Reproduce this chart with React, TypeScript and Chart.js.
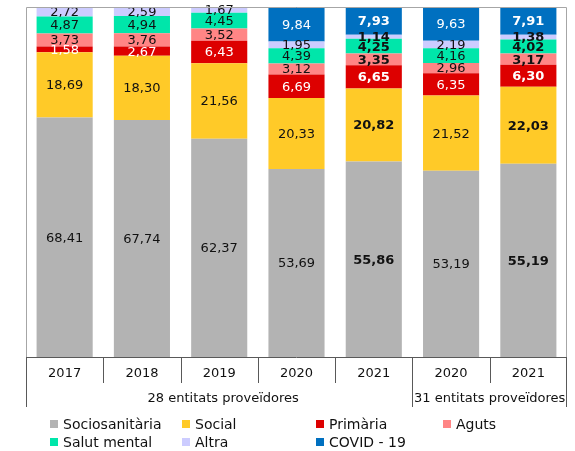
import React, { useEffect, useRef } from "react";
import { Chart, registerables } from "chart.js";

Chart.register(...registerables);

const categories = ["2017", "2018", "2019", "2020", "2021", "2020", "2021"];
const groupLabels = ["28 entitats proveïdores", "31 entitats proveïdores"];
const groupSpans = [5, 2];

const sociosanitaria = [68.41, 67.74, 62.37, 53.69, 55.86, 53.19, 55.19];
const social = [18.69, 18.3, 21.56, 20.33, 20.82, 21.52, 22.03];
const primaria = [1.58, 2.67, 6.43, 6.69, 6.65, 6.35, 6.3];
const aguts = [3.73, 3.76, 3.52, 3.12, 3.35, 2.96, 3.17];
const salutMental = [4.87, 4.94, 4.45, 4.39, 4.25, 4.16, 4.02];
const altra = [2.72, 2.59, 1.67, 1.95, 1.14, 2.19, 1.38];
const covid = [0, 0, 0, 9.84, 7.93, 9.63, 7.91];

const boldColumns = [4, 6];

const seriesDefs = [
  { label: "Sociosanitària", data: sociosanitaria, color: "#B3B3B3", text: "#111111" },
  { label: "Social", data: social, color: "#FFCA28", text: "#111111" },
  { label: "Primària", data: primaria, color: "#DD0000", text: "#FFFFFF" },
  { label: "Aguts", data: aguts, color: "#FF8585", text: "#111111" },
  { label: "Salut mental", data: salutMental, color: "#00E6AA", text: "#111111" },
  { label: "Altra", data: altra, color: "#CCCCFF", text: "#111111" },
  { label: "COVID - 19", data: covid, color: "#0070C0", text: "#FFFFFF" },
];

// legend layout order (rows of 4)
const legendOrder = [0, 1, 2, 3, 4, 5, 6];

const FONT = "'DejaVu Sans', Verdana, sans-serif";

export default function App() {
  const ref = useRef<HTMLCanvasElement | null>(null);

  useEffect(() => {
    document.body.style.margin = "0";
    const canvas = ref.current;
    if (!canvas) return;

    const overlay = {
      id: "overlay",
      afterDatasetsDraw(chart: any) {
        const ctx = chart.ctx as CanvasRenderingContext2D;
        ctx.save();
        ctx.textAlign = "center";
        ctx.textBaseline = "middle";
        chart.data.datasets.forEach((ds: any, di: number) => {
          const meta = chart.getDatasetMeta(di);
          meta.data.forEach((bar: any, i: number) => {
            const v = ds.data[i];
            if (!v) return;
            const y = (bar.y + bar.base) / 2;
            const bold = boldColumns.includes(i);
            ctx.font = `${bold ? "bold " : ""}13px ${FONT}`;
            ctx.fillStyle = seriesDefs[di].text;
            ctx.fillText(v.toFixed(2).replace(".", ","), bar.x, y + 1);
          });
        });
        ctx.restore();
      },
      afterDraw(chart: any) {
        const ctx = chart.ctx as CanvasRenderingContext2D;
        const { left, right, top, bottom } = chart.chartArea;
        const xs = chart.scales.x;
        const n = categories.length;
        const cw = (right - left) / n;
        ctx.save();
        // plot border (light)
        ctx.strokeStyle = "#A6A6A6";
        ctx.lineWidth = 1;
        ctx.beginPath();
        ctx.moveTo(left + 0.5, bottom);
        ctx.lineTo(left + 0.5, top + 0.5);
        ctx.lineTo(right - 0.5, top + 0.5);
        ctx.lineTo(right - 0.5, bottom);
        ctx.stroke();
        // axis
        ctx.strokeStyle = "#595959";
        ctx.beginPath();
        ctx.moveTo(left, bottom + 0.5);
        ctx.lineTo(right, bottom + 0.5);
        ctx.stroke();
        const groupBottom = bottom + 50;
        const tickBottom = bottom + 26;
        // outer lines
        ctx.beginPath();
        ctx.moveTo(left + 0.5, bottom);
        ctx.lineTo(left + 0.5, groupBottom);
        ctx.moveTo(right - 0.5, bottom);
        ctx.lineTo(right - 0.5, groupBottom);
        let acc = 0;
        const boundaries: number[] = [];
        groupSpans.forEach((s) => {
          acc += s;
          boundaries.push(acc);
        });
        for (let k = 1; k < n; k++) {
          const x = Math.round(left + cw * k) + 0.5;
          ctx.moveTo(x, bottom);
          ctx.lineTo(x, boundaries.includes(k) ? groupBottom : tickBottom);
        }
        ctx.stroke();
        // category labels
        ctx.fillStyle = "#111111";
        ctx.font = `13px ${FONT}`;
        ctx.textAlign = "center";
        ctx.textBaseline = "middle";
        categories.forEach((c, i) => {
          ctx.fillText(c, xs.getPixelForValue(i), bottom + 17);
        });
        // group labels
        let start = 0;
        groupSpans.forEach((s, g) => {
          const x0 = left + cw * start;
          const x1 = left + cw * (start + s);
          ctx.fillText(groupLabels[g], (x0 + x1) / 2 + (g === 0 ? 4 : 0), bottom + 42);
          start += s;
        });
        // legend
        const colX = [50, 182, 316, 443];
        const rowY = [424, 442];
        ctx.font = `14px ${FONT}`;
        ctx.textAlign = "left";
        legendOrder.forEach((si, idx) => {
          const r = Math.floor(idx / 4);
          const c = idx % 4;
          const x = colX[c];
          const y = rowY[r];
          ctx.fillStyle = seriesDefs[si].color;
          ctx.fillRect(x, y - 4, 8, 8);
          ctx.fillStyle = "#111111";
          ctx.fillText(seriesDefs[si].label, x + 13, y + 1);
        });
        ctx.restore();
      },
    };

    const chart = new Chart(canvas, {
      type: "bar",
      data: {
        labels: categories,
        datasets: seriesDefs.map((s) => ({
          label: s.label,
          data: s.data,
          backgroundColor: s.color,
          borderWidth: 0,
          categoryPercentage: 1,
          barPercentage: 0.726,
        })),
      },
      options: {
        responsive: false,
        animation: false,
        layout: { padding: { left: 26, right: 8, top: 7, bottom: 94 } },
        plugins: { legend: { display: false }, tooltip: { enabled: false } },
        scales: {
          x: { stacked: true, display: false },
          y: { stacked: true, display: false, min: 0, max: 100 },
        },
      },
      plugins: [overlay],
    });
    return () => chart.destroy();
  }, []);

  return (
    <div style={{ position: "fixed", left: 0, top: 0, width: 575, height: 451, background: "#fff" }}>
      <canvas ref={ref} width={575} height={451} style={{ width: 575, height: 451 }} />
    </div>
  );
}
